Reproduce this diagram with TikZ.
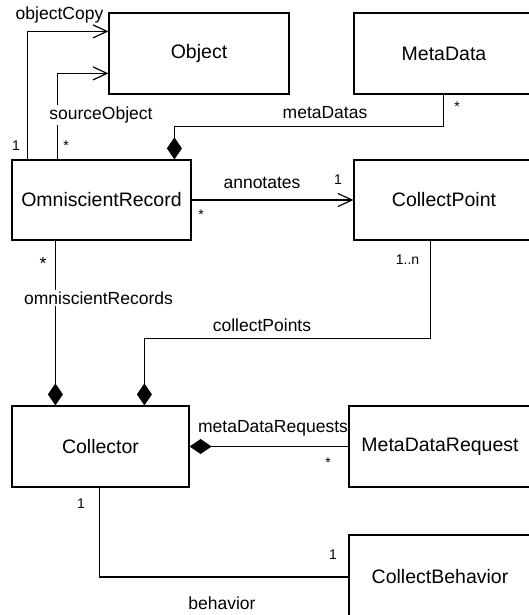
\documentclass[tikz,border=0pt]{standalone}
\usepackage{fontspec}
\setmainfont{Liberation Sans}
\usetikzlibrary{arrows.meta,calc}
\begin{document}
\begin{tikzpicture}[x=1pt,y=-1pt,line width=1.2pt,
  cls/.style={draw,rectangle,minimum width=180pt,minimum height=81pt,inner sep=0pt,font=\fontsize{19.5}{22}\selectfont},
  lbl/.style={inner sep=0pt,font=\fontsize{17.5}{20}\selectfont},
  wlbl/.style={lbl,fill=white,inner sep=1.5pt},
  mult/.style={inner sep=0pt,font=\fontsize{14}{16}\selectfont},
  assoc/.style={-{Straight Barb[length=14pt,width=13pt]}},
  comp/.style={-{Diamond[length=22pt,width=15pt]}}]
\useasboundingbox (0,0) rectangle (529,615);
\clip (0,0) rectangle (529,615);
% classes
\node[cls] (Obj) at (199,53.5) {Object};
\node[cls,minimum width=180pt] (MD) at (444,53.5) {MetaData};
\node[cls,minimum width=179pt,minimum height=80pt] (OR) at (101.5,200) {OmniscientRecord};
\node[cls,minimum height=80pt] (CP) at (444,200) {CollectPoint};
\node[cls,minimum width=177pt] (Col) at (100.5,446.5) {Collector};
\node[cls,minimum width=182pt] (MDR) at (440,446.5) {MetaDataRequest};
\node[cls,minimum width=182pt,minimum height=84pt] (CB) at (440,577) {CollectBehavior};
% connectors
\draw[assoc] ($(OR.north west)+(16,0)$) |- ($(Obj.north west)+(0,19)$);
\draw[assoc] ($(OR.north west)+(46,0)$) |- ($(Obj.north west)+(0,61)$);
\draw[comp] ($(MD.south west)+(90,0)$) -- ++(0,32) -| ($(OR.north west)+(163,0)$);
\draw[assoc] (OR.east) -- (CP.west);
\draw[comp] ($(OR.south west)+(44,0)$) -- ($(Col.north west)+(44,0)$);
\draw[comp] ($(CP.south west)+(77,0)$) -- ++(0,98) -| ($(Col.north west)+(133,0)$);
\draw[comp] (MDR.west) -- (Col.east);
\draw ($(Col.south west)+(88,0)$) |- (CB.west);
% labels
\node[lbl] (l1) at (59.5,15) {objectCopy};
\node[mult] (m1) at (16,146) {1};
\node[wlbl] (l2) at (101,115) {sourceObject};
\node[mult] (m2) at (66,146) {*};
\node[lbl] (l3) at (325,113) {metaDatas};
\node[mult] (m3) at (457,107) {*};
\node[lbl] (l4) at (262,183) {annotates};
\node[mult] (m4) at (338,180) {1};
\node[mult] (m5) at (201,215) {*};
\node[lbl] (m6) at (43,263.5) {*};
\node[wlbl] (l5) at (98.5,298) {omniscientRecords};
\node[mult] (m7) at (407.5,260) {1..n};
\node[lbl] (l6) at (262,325) {collectPoints};
\node[lbl] (l7) at (273,428) {metaDataRequests};
\node[mult] (m8) at (328,463) {*};
\node[mult] (m9) at (81,504) {1};
\node[mult] (m10) at (333,555) {1};
\node[lbl] (l8) at (222,603) {behavior};
\end{tikzpicture}
\end{document}
